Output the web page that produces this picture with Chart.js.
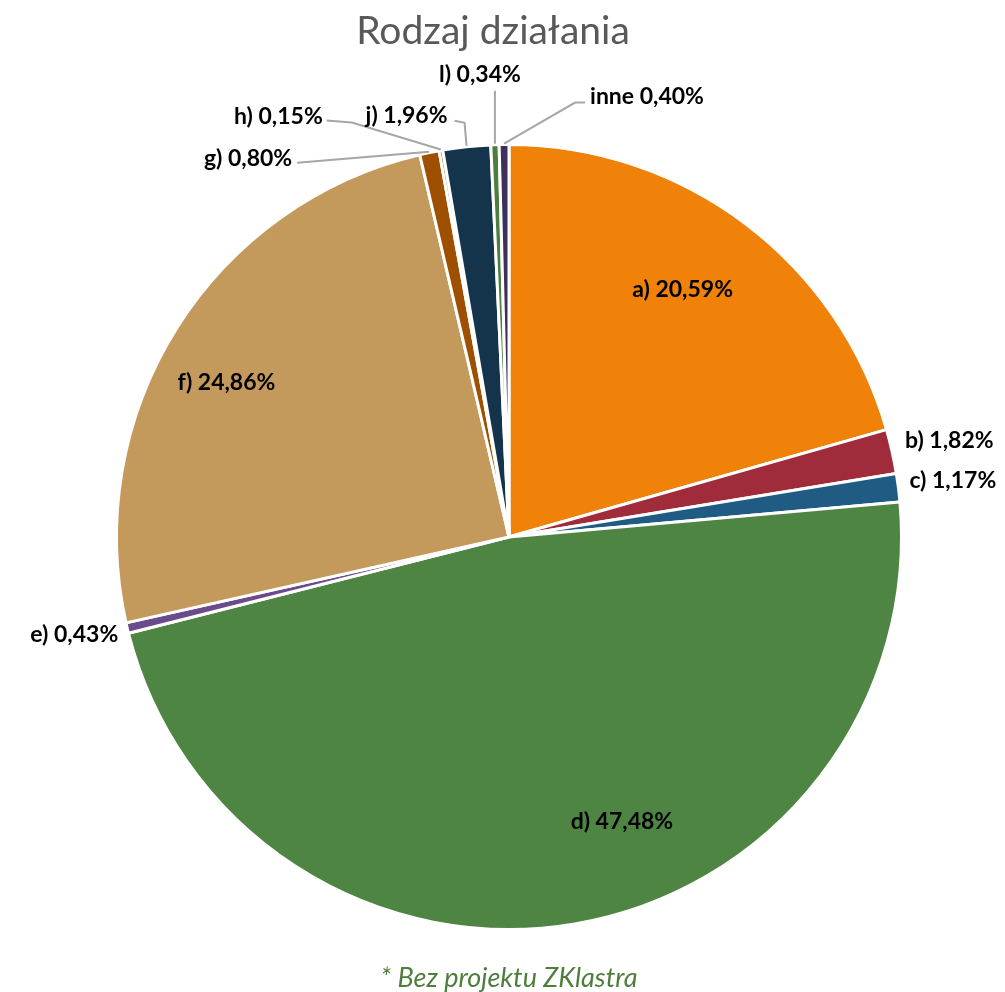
<!DOCTYPE html>
<html lang="pl">
<head>
<meta charset="utf-8">
<title>Rodzaj działania</title>
<script src="https://cdn.jsdelivr.net/npm/chart.js@4.4.1/dist/chart.umd.min.js"></script>
<style>
    html, body { margin: 0; padding: 0; background: #fff; }
    #wrap { position: relative; width: 1005px; height: 992px; overflow: hidden; }
    #wykres { position: absolute; left: 0; top: 0; }
    #tytul {
        position: absolute; left: 0; width: 986px; top: 6px;
        text-align: center; font-family: Lato, sans-serif; font-size: 39px; color: #595959;
    }
    #przypis {
        position: absolute; left: 0; width: 1018px; top: 960px;
        text-align: center; font-family: Lato, sans-serif; font-style: italic; font-size: 27px; color: #4e7e3c;
    }
</style>
</head>
<body>
<div id="wrap">
    <canvas id="wykres" width="1005" height="992"></canvas>
    <div id="tytul">Rodzaj działania</div>
    <div id="przypis">* Bez projektu ZKlastra</div>
</div>
<script>
// dane z wykresu (procenty)
const kategorie = ['a)', 'b)', 'c)', 'd)', 'e)', 'f)', 'g)', 'h)', 'j)', 'l)', 'inne'];
const udzialy = [20.59, 1.82, 1.17, 47.48, 0.43, 24.86, 0.80, 0.15, 1.96, 0.34, 0.40];
const kolory = ['#f0820a', '#a02b3a', '#1f5b82', '#4e8542', '#6a4c8c', '#c39a5c',
    '#9e4f00', '#b06a2a', '#14344c', '#4e7e3c', '#3d2e5a'];

// rozmieszczenie etykiet: 'in' = w wycinku, 'out' = obok z linia odniesienia
const etykiety = [
    { tryb: 'in', rf: 0.77, da: -2 },
    { tryb: 'out', dx: 12, dy: -11, align: 'left' },
    { tryb: 'out', dx: 10, dy: -7, align: 'left' },
    { tryb: 'in', rf: 0.78, da: -12 },
    { tryb: 'out', dx: -8, dy: 6, align: 'right' },
    { tryb: 'in', rf: 0.82, da: -3.5 },
    { tryb: 'out', dx: -137, dy: 7, align: 'right', linia: [[-132, 11]] },
    { tryb: 'out', dx: -118, dy: -33, align: 'right', linia: [[-114, -29], [-89, -27]] },
    { tryb: 'out', dx: -19, dy: -30, align: 'right', linia: [[-12, -25], [-2, -23]] },
    { tryb: 'out', dx: -15, dy: -69, align: 'center', linia: [[0, -53]] },
    { tryb: 'out', dx: 86, dy: -47, align: 'left', linia: [[81, -41], [71, -41]] }
];

function formatuj(v) {
    return v.toFixed(2).replace('.', ',') + '%';
}

const etykietyPlugin = {
    id: 'etykietyPlugin',
    afterDatasetsDraw(chart) {
        const ctx = chart.ctx;
        const meta = chart.getDatasetMeta(0);
        ctx.save();
        ctx.font = 'bold 23px Lato, sans-serif';
        ctx.textBaseline = 'middle';
        meta.data.forEach((arc, i) => {
            const p = arc.getProps(['x', 'y', 'startAngle', 'endAngle', 'outerRadius'], true);
            const mid = (p.startAngle + p.endAngle) / 2;
            const tekst = kategorie[i] + ' ' + formatuj(udzialy[i]);
            const e = etykiety[i];
            if (e.tryb === 'in') {
                const a = mid + e.da * Math.PI / 180;
                const r = p.outerRadius * e.rf;
                ctx.fillStyle = '#000';
                ctx.textAlign = 'center';
                ctx.fillText(tekst, p.x + Math.cos(a) * r, p.y + Math.sin(a) * r);
                return;
            }
            // punkt na krawedzi wycinka
            const ex = p.x + Math.cos(mid) * (p.outerRadius + 1);
            const ey = p.y + Math.sin(mid) * (p.outerRadius + 1);
            if (e.linia) {
                ctx.strokeStyle = '#a6a6a6';
                ctx.lineWidth = 2;
                ctx.beginPath();
                ctx.moveTo(ex + e.linia[0][0], ey + e.linia[0][1]);
                for (let k = 1; k < e.linia.length; k++) {
                    ctx.lineTo(ex + e.linia[k][0], ey + e.linia[k][1]);
                }
                ctx.lineTo(ex, ey);
                ctx.stroke();
            }
            ctx.fillStyle = '#000';
            ctx.textAlign = e.align;
            ctx.fillText(tekst, ex + e.dx, ey + e.dy);
        });
        ctx.restore();
    }
};

const ctx = document.getElementById('wykres').getContext('2d');
new Chart(ctx, {
    type: 'pie',
    data: {
        labels: kategorie,
        datasets: [{
            data: udzialy,
            backgroundColor: kolory,
            borderColor: '#ffffff',
            borderWidth: 3
        }]
    },
    options: {
        responsive: false,
        animation: false,
        layout: { padding: { top: 143, bottom: 61, left: 115, right: 102 } },
        plugins: {
            legend: { display: false },
            tooltip: { enabled: false },
            title: { display: false }
        }
    },
    plugins: [etykietyPlugin]
});
</script>
</body>
</html>
